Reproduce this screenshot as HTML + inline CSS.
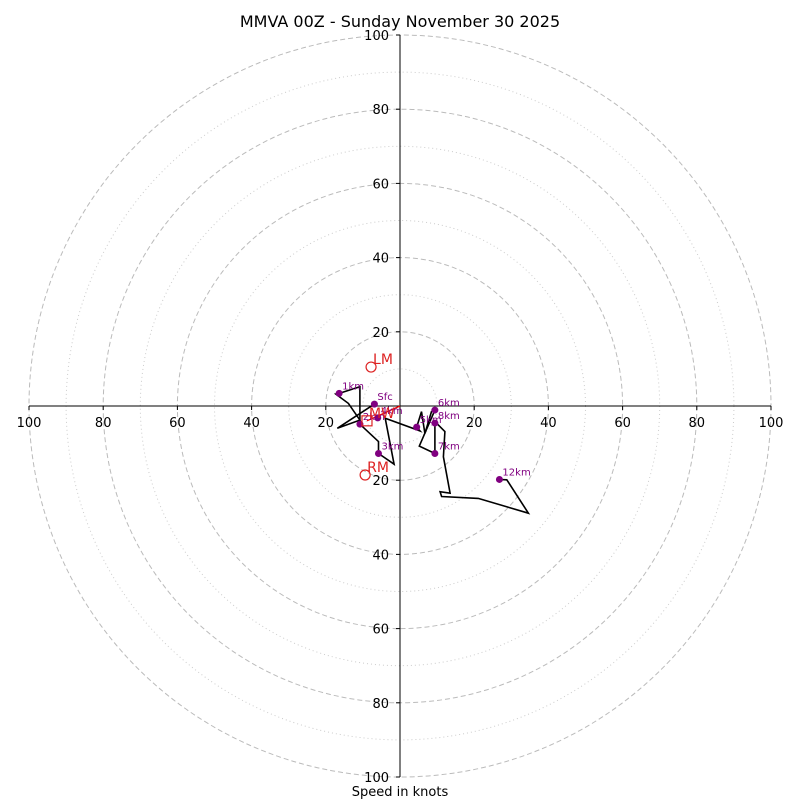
<!DOCTYPE html>
<html><head><meta charset="utf-8"><style>
body{margin:0;background:#fff;}
svg{display:block;font-family:"DejaVu Sans","Liberation Sans",sans-serif;}
</style></head><body>
<svg id="chart" width="800" height="800" viewBox="0 0 800 800">
<text x="400" y="27" text-anchor="middle" font-size="16">MMVA 00Z - Sunday November 30 2025</text>
<text x="400" y="796" text-anchor="middle" font-size="13">Speed in knots</text>
<g id="grid"></g><g id="axes"></g><g id="series"></g>
</svg>
<script>
const ringsDashed=[20,40,60,80,100];
const ringsDotted=[10,30,50,70,90];
const tickLabels=[20,40,60,80,100];
const pathU=[-6.9,-16.9,-10.8,-13.9,-17.3,-16.4,-10.8,-10.8,-5.8,-5.8,-1.6,-4.0,5.4,4.5,5.8,6.7,8.5,9.4,5.2,9.4,9.4,12.1,11.7,13.5,10.8,11.2,21.1,34.6,28.8,26.8];
const pathV=[0.5,-6.0,-3.8,0.7,3.2,3.4,5.2,-4.9,-9.6,-12.8,-15.7,-3.3,-6.7,-5.7,-1.5,-7.4,-1.5,-1.1,-10.8,-12.8,-4.2,-6.9,-13.7,-23.5,-23.1,-24.4,-24.9,-28.9,-19.9,-19.8];
const levelNames=["Sfc","1km","2km","3km","4km","5km","6km","7km","8km","12km"];
const levelU=[-6.9,-16.4,-10.8,-5.8,-6.0,4.5,9.4,9.4,9.4,26.8];
const levelV=[0.5,3.4,-4.9,-12.8,-3.2,-5.7,-1.1,-12.8,-4.6,-19.8];
const motionNames=["LM","RM","MW"];
const motionU=[-7.8,-9.4,-8.9];
const motionV=[10.5,-18.6,-4.0];

const cx=400,cy=406,R=371,maxV=100;
const sx=u=>cx+u*R/maxV, sy=v=>cy-v*R/maxV;
const NS="http://www.w3.org/2000/svg";
function mk(tag,parent,attrs){const e=document.createElementNS(NS,tag);for(const k in attrs)e.setAttribute(k,attrs[k]);parent.appendChild(e);return e;}
const grid=document.getElementById('grid'),axes=document.getElementById('axes'),ser=document.getElementById('series');
ringsDotted.forEach(r=>{const c=mk('circle',grid,{cx:cx,cy:cy,r:r*R/maxV,fill:'none',stroke:'#ccc','stroke-width':1,'stroke-dasharray':'1,3'});

});
ringsDashed.forEach(r=>{const c=mk('circle',grid,{cx:cx,cy:cy,r:r*R/maxV,fill:'none',stroke:'#bbb','stroke-width':1,'stroke-dasharray':'5,3'});

});
const xl=mk('line',axes,{x1:sx(-100),y1:cy,x2:sx(100),y2:cy,stroke:'#000','stroke-width':1});


const yl=mk('line',axes,{x1:cx,y1:sy(100),x2:cx,y2:sy(-100),stroke:'#000','stroke-width':1});


tickLabels.forEach(t=>{
 [-1,1].forEach(s=>{
  const x=sx(s*t);
  mk('line',axes,{x1:x,y1:cy,x2:x,y2:cy+4,stroke:'#000'});
  const tx=mk('text',axes,{x:x,y:cy+21,'text-anchor':'middle','font-size':13});tx.textContent=t;
  
  
  const y=sy(s*t);
  mk('line',axes,{x1:cx-4,y1:y,x2:cx,y2:y,stroke:'#000'});
  const ty=mk('text',axes,{x:cx-11,y:y+5,'text-anchor':'end','font-size':13});ty.textContent=t;
  
  
 });
});
const pts=pathU.map((u,i)=>sx(u).toFixed(1)+','+sy(pathV[i]).toFixed(1)).join(' ');
const pl=mk('polyline',ser,{points:pts,fill:'none',stroke:'#000','stroke-width':1.6});


const mwl=mk('line',ser,{x1:sx(motionU[2]),y1:sy(motionV[2]),x2:sx(0),y2:sy(0),stroke:'#e00','stroke-width':1.3});


levelNames.forEach((n,i)=>{
 const c=mk('circle',ser,{cx:sx(levelU[i]),cy:sy(levelV[i]),r:3.5,fill:'purple'});
 
 
 const t=mk('text',ser,{x:sx(levelU[i])+3,y:sy(levelV[i])-4,'font-size':10,fill:'purple'});t.textContent=n;
 
 
});
motionNames.forEach((n,i)=>{
 const x=sx(motionU[i]),y=sy(motionV[i]);
 let m;
 if(n==='MW') m=mk('rect',ser,{x:x-5,y:y-5,width:10,height:10,fill:'none',stroke:'#d22','stroke-width':1.2});
 else m=mk('circle',ser,{cx:x,cy:y,r:5,fill:'none',stroke:'#d22','stroke-width':1.2});
 
 
 const t=mk('text',ser,{x:x+2,y:y-3,'font-size':14,fill:'#d22'});t.textContent=n;
 
 
});
</script>
</body></html>
